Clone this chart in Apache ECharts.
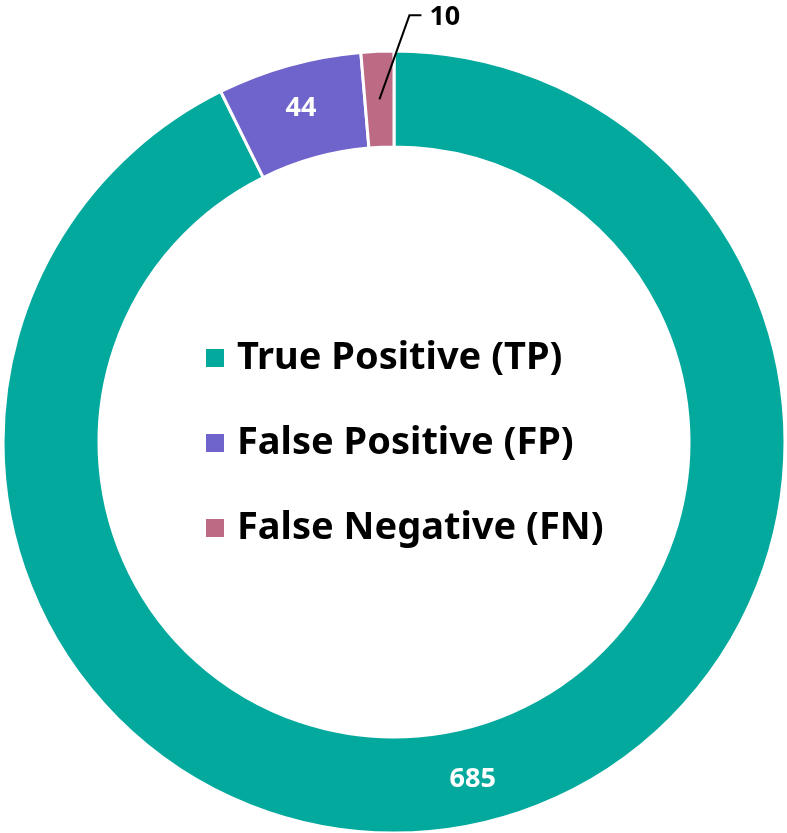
<!DOCTYPE html>
<html>
<head>
<meta charset="utf-8">
<script src="https://cdn.jsdelivr.net/npm/echarts@6/dist/echarts.min.js"></script>
<style>html,body{margin:0;padding:0;background:#fff}#c{width:787px;height:833px}</style>
</head>
<body>
<div id="c"></div>
<script>
const categories = ['True Positive (TP)', 'False Positive (FP)', 'False Negative (FN)'];
const values = [685, 44, 10];
const colors = ['#04a99d', '#6f64cb', '#bd6a85'];
const outsideLabels = [false, false, true];

const chart = echarts.init(document.getElementById('c'), null, {renderer: 'canvas'});
const FONT = '"Noto Sans", sans-serif';
const CENTER = [394, 442];
const RADIUS = [295, 391];

const labelFont = { fontFamily: FONT, fontWeight: 'bold', fontSize: 27 };

chart.setOption({
  animation: false,
  backgroundColor: '#ffffff',
  legend: {
    orient: 'vertical',
    left: 199,
    top: 333,
    itemWidth: 20,
    itemHeight: 20,
    itemGap: 45,
    icon: 'rect',
    textStyle: { fontFamily: FONT, fontWeight: 'bold', fontSize: 38, color: '#000', lineHeight: 40, padding: [0, 0, 0, 7] },
    data: categories
  },
  series: [{
    type: 'pie',
    z: 2,
    center: CENTER,
    radius: RADIUS,
    startAngle: 90,
    clockwise: true,
    avoidLabelOverlap: false,
    itemStyle: { borderColor: '#ffffff', borderWidth: 3 },
    label: Object.assign({ show: true, position: 'inside', formatter: '{c}', color: '#ffffff' }, labelFont),
    labelLine: { show: false },
    data: categories.map((name, i) => ({
      name: name,
      value: values[i],
      itemStyle: { color: colors[i] },
      label: { show: !outsideLabels[i] }
    }))
  }, {
    // transparent overlay carrying the outside label so its leader line draws over the ring
    type: 'pie',
    z: 5,
    silent: true,
    center: CENTER,
    radius: RADIUS,
    startAngle: 90,
    clockwise: true,
    avoidLabelOverlap: false,
    legendHoverLink: false,
    itemStyle: { color: 'rgba(0,0,0,0)', borderWidth: 0 },
    label: Object.assign({ show: true, position: 'outside', formatter: '{c}', color: '#000000' }, labelFont),
    labelLine: { show: true, length: 20, length2: 10, lineStyle: { color: '#000', width: 2 } },
    labelLayout: function (params) {
      if (!params.labelLinePoints) return {};
      const p0 = params.labelLinePoints[0];
      const dx = p0[0] - CENTER[0], dy = p0[1] - CENTER[1];
      const len = Math.sqrt(dx * dx + dy * dy);
      const s = (len - 48) / len;
      const a = [CENTER[0] + dx * s, CENTER[1] + dy * s];
      const b = [a[0] + 30, a[1] - 84];
      const c = [b[0] + 12, b[1]];
      return {
        x: c[0] + 8,
        y: c[1] + 2,
        align: 'left',
        verticalAlign: 'middle',
        labelLinePoints: [a, b, c]
      };
    },
    data: categories.map((name, i) => ({
      name: name,
      value: values[i],
      label: { show: outsideLabels[i] },
      labelLine: { show: outsideLabels[i] }
    }))
  }]
});
</script>
</body>
</html>
